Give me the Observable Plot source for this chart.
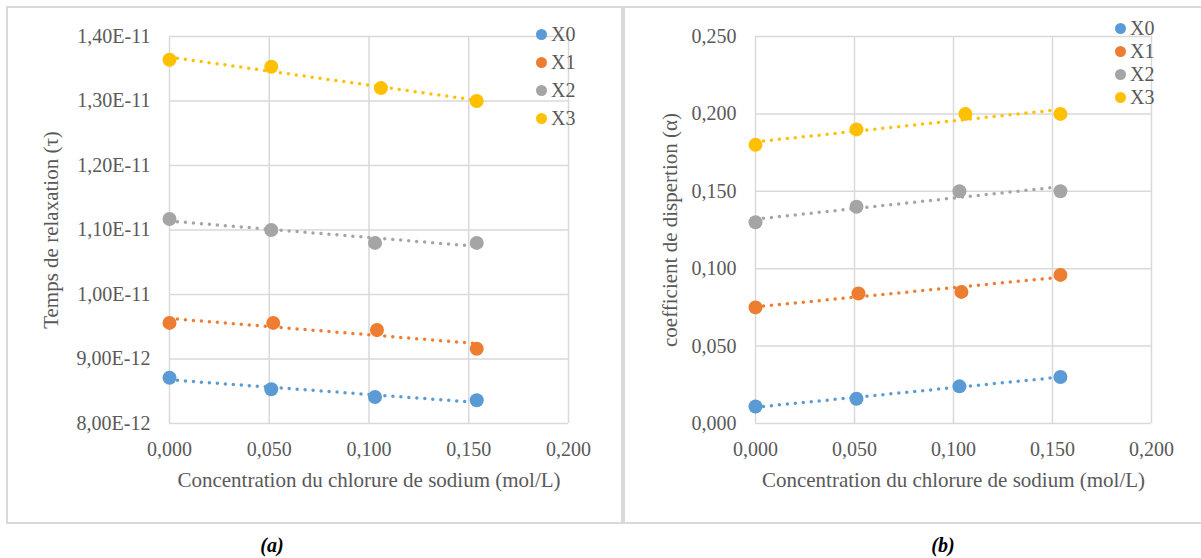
<!DOCTYPE html>
<html><head><meta charset="utf-8">
<script src="https://cdn.jsdelivr.net/npm/d3@7"></script>
<script src="https://cdn.jsdelivr.net/npm/@observablehq/plot@0.6"></script>
<style>
body{margin:0;background:#fff;}
#root{position:relative;width:1201px;height:558px;overflow:hidden;font-family:"Liberation Serif","Times New Roman",serif;color:#595959;}
.ln{position:absolute;background:#d9d9d9;}
.panel{position:absolute;top:0;}
.panel svg{overflow:visible;}
.legend{position:absolute;font-size:20px;}
.legend .row{display:flex;align-items:center;}
.legend .sw{width:11px;height:11px;border-radius:50%;display:inline-block;margin-right:4px;}
.caption{position:absolute;font-weight:bold;font-style:italic;font-size:20px;line-height:20px;color:#000;transform:translateX(-50%);}
</style>
</head><body>
<div id="root">
  <div class="ln" style="left:6px;top:6px;width:1195px;height:2px"></div>
  <div class="ln" style="left:6px;top:522px;width:1195px;height:2px"></div>
  <div class="ln" style="left:6px;top:6px;width:2px;height:518px"></div>
  <div class="ln" style="left:621px;top:6px;width:4px;height:518px"></div>
  <div class="panel" id="pa" style="left:0px"></div>
  <div class="panel" id="pb" style="left:625px"></div>
  <div class="legend" id="lega" style="left:536px;top:20px"></div>
  <div class="legend" id="legb" style="left:1115px;top:17px"></div>
  <div class="caption" style="left:272px;top:535px">(a)</div>
  <div class="caption" style="left:943px;top:535px">(b)</div>
</div>
<script>
// Series
const series = ["X0", "X1", "X2", "X3"];
const colors = ["#5B9BD5", "#ED7D31", "#A5A5A5", "#FFC000"];

// NaCl concentration (mol/L) per series
const concX0 = [0, 0.051, 0.103, 0.154];
const concX1 = [0, 0.052, 0.104, 0.154];
const concX2 = [0, 0.051, 0.103, 0.154];
const concX3 = [0, 0.051, 0.106, 0.154];

// (a) relaxation time tau
const tauX0 = [8.71e-12, 8.53e-12, 8.41e-12, 8.36e-12];
const tauX1 = [9.56e-12, 9.56e-12, 9.45e-12, 9.16e-12];
const tauX2 = [1.117e-11, 1.100e-11, 1.080e-11, 1.080e-11];
const tauX3 = [1.364e-11, 1.353e-11, 1.320e-11, 1.300e-11];

// (b) dispersion coefficient alpha
const alphaX0 = [0.011, 0.016, 0.024, 0.030];
const alphaX1 = [0.075, 0.084, 0.085, 0.096];
const alphaX2 = [0.130, 0.140, 0.150, 0.150];
const alphaX3 = [0.180, 0.190, 0.200, 0.200];

// Ticks
const xTicks = [0, 0.05, 0.1, 0.15, 0.2];
const xTickLabels = ["0,000", "0,050", "0,100", "0,150", "0,200"];
const yTicksA = [8e-12, 9e-12, 1e-11, 1.1e-11, 1.2e-11, 1.3e-11, 1.4e-11];
const yTickLabelsA = ["8,00E-12", "9,00E-12", "1,00E-11", "1,10E-11", "1,20E-11", "1,30E-11", "1,40E-11"];
const yTicksB = [0, 0.05, 0.1, 0.15, 0.2, 0.25];
const yTickLabelsB = ["0,000", "0,050", "0,100", "0,150", "0,200", "0,250"];

const xLabel = "Concentration du chlorure de sodium (mol/L)";
const yLabelA = "Temps de relaxation (\u03C4)";
const yLabelB = "coefficient de dispertion (\u03B1)";

const conc = [concX0, concX1, concX2, concX3];
const FONT = '"Liberation Serif","Times New Roman",serif';

function panel(cfg) {
  const data = series.flatMap((s, si) => conc[si].map((c, i) => ({s, x: c, y: cfg.ys[si][i]})));
  const fx = d => xTickLabels[xTicks.findIndex(t => Math.abs(t - d) < 1e-9)];
  const fy = d => cfg.yLabels[cfg.yTicks.findIndex(t => Math.abs(t - d) < 1e-15 + Math.abs(t) * 1e-6)];
  const grid = {stroke: "#d9d9d9", strokeOpacity: 1, strokeWidth: 1.5};
  return Plot.plot({
    width: cfg.width, height: 520,
    marginLeft: cfg.marginLeft, marginRight: cfg.marginRight, marginTop: 36, marginBottom: 97,
    style: {fontFamily: FONT, fontSize: "20px", color: "#595959", background: "transparent", overflow: "visible"},
    x: {domain: [0, 0.2]},
    y: {domain: cfg.yDomain},
    color: {domain: series, range: colors},
    marks: [
      Plot.gridX(xTicks, grid),
      Plot.gridY(cfg.yTicks, grid),
      Plot.axisX(xTicks, {tickSize: 0, tickPadding: 18, tickFormat: fx, label: null, fill: "#595959"}),
      Plot.axisX([], {tickSize: 0, label: xLabel, labelAnchor: "center", labelArrow: "none", labelOffset: 63, fill: "#595959", fontSize: 21}),
      Plot.axisY(cfg.yTicks, {tickSize: 0, tickPadding: 19, tickFormat: fy, label: null, fill: "#595959"}),
      Plot.axisY([], {tickSize: 0, label: cfg.yLabel, labelAnchor: "center", labelArrow: "none", labelOffset: cfg.labelOffset, fill: "#595959", fontSize: 21}),
      Plot.dot(data, {x: "x", y: "y", fill: "s", r: 7}),
      Plot.linearRegressionY(data, {x: "x", y: "y", stroke: "s", ci: 0, strokeWidth: 3.5, strokeDasharray: "0 8", strokeLinecap: "round"})
    ]
  });
}

document.getElementById("pa").append(panel({
  width: 620, marginLeft: 169, marginRight: 52,
  yDomain: [8e-12, 1.4e-11], yTicks: yTicksA, yLabels: yTickLabelsA,
  yLabel: yLabelA, labelOffset: 126, ys: [tauX0, tauX1, tauX2, tauX3]
}));
document.getElementById("pb").append(panel({
  width: 576, marginLeft: 130, marginRight: 50,
  yDomain: [0, 0.25], yTicks: yTicksB, yLabels: yTickLabelsB,
  yLabel: yLabelB, labelOffset: 93, ys: [alphaX0, alphaX1, alphaX2, alphaX3]
}));

function legend(id, rowH) {
  const el = document.getElementById(id);
  series.forEach((s, i) => {
    const row = document.createElement("div");
    row.className = "row";
    row.style.height = rowH + "px";
    const sw = document.createElement("span");
    sw.className = "sw";
    sw.style.background = colors[i];
    row.append(sw, document.createTextNode(s));
    el.append(row);
  });
}
legend("lega", 28);
legend("legb", 23);
</script>
</body></html>
